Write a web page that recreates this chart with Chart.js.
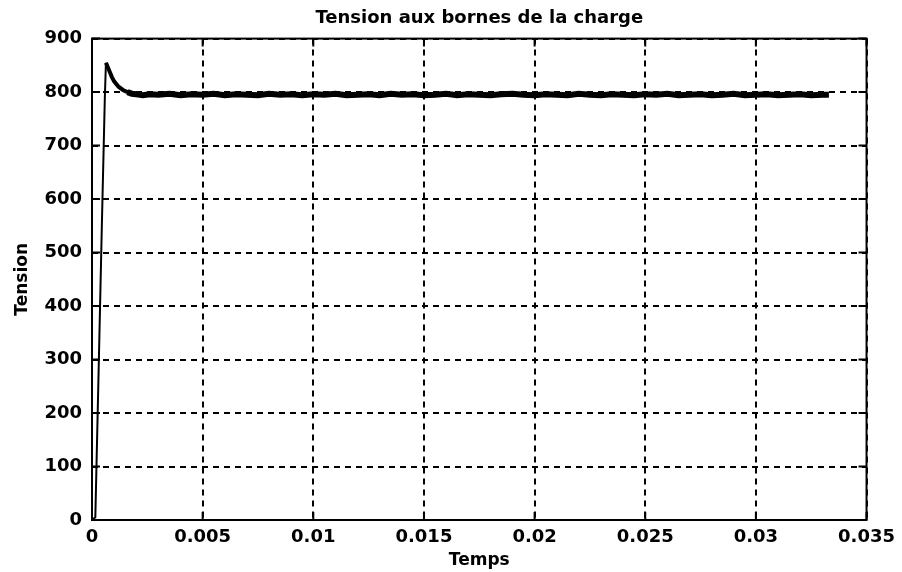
<!DOCTYPE html>
<html>
<head>
<meta charset="utf-8">
<script src="https://cdn.jsdelivr.net/npm/chart.js@4.4.0/dist/chart.umd.min.js"></script>
<style>
  html, body { margin: 0; padding: 0; background: #fff; }
  #wrap { width: 902px; height: 572px; }
</style>
</head>
<body>
<div id="wrap"><canvas id="c" width="902" height="572"></canvas></div>
<script>
// valeurs
const temps = [0, 0.00015, 0.0003, 0.00045, 0.00058, 0.00063, 0.0007, 0.0008, 0.0009, 0.001, 0.0012, 0.0014, 0.0016, 0.0018, 0.002, 0.0023, 0.0026, 0.003,
  0.0035, 0.004, 0.0045, 0.005, 0.0055, 0.006, 0.0065, 0.007, 0.0075, 0.008, 0.0085, 0.009, 0.0095, 0.01,
  0.0105, 0.011, 0.0115, 0.012, 0.0125, 0.013, 0.0135, 0.014, 0.0145, 0.015, 0.0155, 0.016, 0.0165, 0.017,
  0.0175, 0.018, 0.0185, 0.019, 0.0195, 0.02, 0.0205, 0.021, 0.0215, 0.022, 0.0225, 0.023, 0.0235, 0.024,
  0.0245, 0.025, 0.0255, 0.026, 0.0265, 0.027, 0.0275, 0.028, 0.0285, 0.029, 0.0295, 0.03, 0.0305, 0.031,
  0.0315, 0.032, 0.0325, 0.033, 0.0333]
const tension = [0, 5, 280, 560, 790, 855, 848, 838, 828, 820, 810, 804, 800, 797, 796, 794, 796, 795,
  797, 794, 796, 795, 797, 794, 796, 795, 794, 797, 795, 796, 794, 796,
  795, 797, 794, 795, 796, 794, 797, 795, 796, 794, 795, 797, 794, 796,
  795, 794, 796, 797, 795, 794, 796, 795, 794, 797, 795, 794, 796, 795,
  794, 796, 795, 797, 794, 795, 796, 794, 795, 797, 794, 795, 796, 794,
  795, 796, 794, 795, 795]

const xTicks = [0, 0.005, 0.01, 0.015, 0.02, 0.025, 0.03, 0.035]
const xTickLabels = ['0', '0.005', '0.01', '0.015', '0.02', '0.025', '0.03', '0.035']
const yTicks = [0, 100, 200, 300, 400, 500, 600, 700, 800, 900]

const points = temps.map((t, i) => ({ x: t, y: tension[i] }))

const police = 'DejaVu Sans, Verdana, sans-serif'
const fontTicks = { family: police, size: 18, weight: 'bold' }
const fontAxes = { family: police, size: 17, weight: 'bold' }

// cadre plein + petites graduations vers l'intérieur
const cadre = {
  id: 'cadre',
  afterDraw(chart) {
    const { ctx, chartArea: a, scales } = chart
    ctx.save()
    ctx.strokeStyle = '#000'
    ctx.lineWidth = 2
    ctx.setLineDash([])
    ctx.strokeRect(a.left, a.top, a.right - a.left, a.bottom - a.top)
    ctx.beginPath()
    xTicks.forEach(v => {
      const px = scales.x.getPixelForValue(v)
      ctx.moveTo(px, a.top); ctx.lineTo(px, a.top + 8)
      ctx.moveTo(px, a.bottom); ctx.lineTo(px, a.bottom - 8)
    })
    yTicks.forEach(v => {
      const py = scales.y.getPixelForValue(v)
      ctx.moveTo(a.left, py); ctx.lineTo(a.left + 8, py)
      ctx.moveTo(a.right, py); ctx.lineTo(a.right - 8, py)
    })
    ctx.stroke()
    ctx.restore()
  }
}

new Chart(document.getElementById('c'), {
  type: 'scatter',
  plugins: [cadre],
  data: {
    datasets: [{
      data: points,
      showLine: true,
      borderColor: '#000',
      borderWidth: 6,
      pointRadius: 0,
      tension: 0,
      // montée fine, régime établi épais
      segment: {
        borderWidth: c => c.p1DataIndex <= 5 ? 2 : (c.p1DataIndex <= 12 ? 4 : 6)
      }
    }]
  },
  options: {
    responsive: false,
    animation: false,
    layout: { padding: { top: 0, right: 34, left: 12, bottom: 0 } },
    plugins: {
      legend: { display: false },
      tooltip: { enabled: false },
      title: {
        display: true,
        fullSize: false,
        text: 'Tension aux bornes de la charge',
        color: '#000',
        font: { family: police, size: 18, weight: 'bold' },
        padding: { top: 8, bottom: 9 }
      }
    },
    scales: {
      x: {
        type: 'linear',
        min: 0,
        max: 0.035,
        afterBuildTicks: s => { s.ticks = xTicks.map(v => ({ value: v })) },
        afterFit: s => { s.height = 52 },
        ticks: {
          color: '#000',
          font: fontTicks,
          padding: 7,
          callback: (v, i) => xTickLabels[i]
        },
        grid: { color: '#000', lineWidth: 2, drawTicks: false },
        border: { display: false, dash: [6, 5] },
        title: { display: true, text: 'Temps', color: '#000', font: fontAxes, padding: { top: 0, bottom: 1 } }
      },
      y: {
        min: 0,
        max: 900,
        afterBuildTicks: s => { s.ticks = yTicks.map(v => ({ value: v })) },
        afterFit: s => { s.width = 80 },
        ticks: { color: '#000', font: fontTicks, padding: 10 },
        grid: { color: '#000', lineWidth: 2, drawTicks: false },
        border: { display: false, dash: [6, 5] },
        title: { display: true, text: 'Tension', color: '#000', font: fontAxes, padding: { top: 0, bottom: 8 } }
      }
    }
  }
})
</script>
</body>
</html>
